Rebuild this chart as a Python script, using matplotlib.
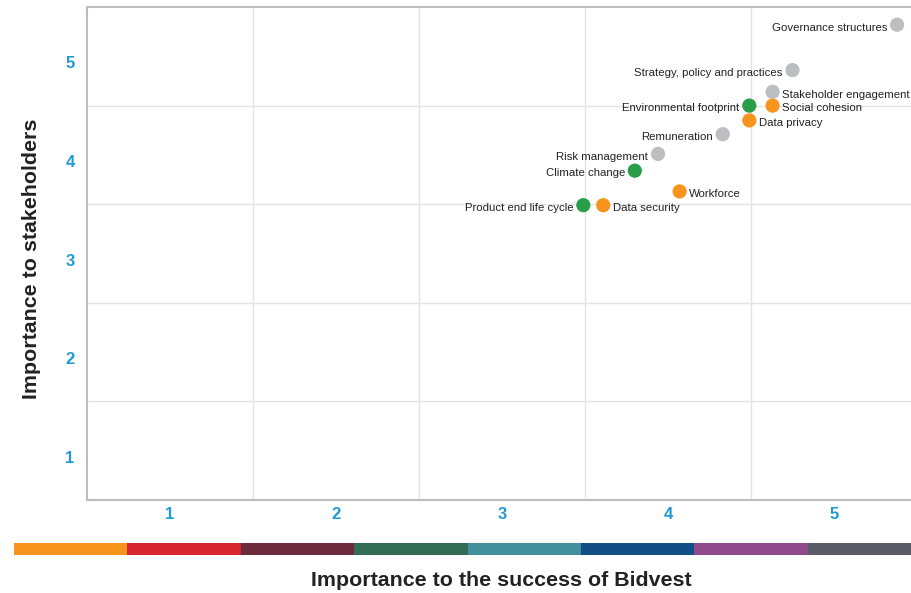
import matplotlib.pyplot as plt
import matplotlib.transforms as mtransforms

# Materiality matrix data
topics = ['Governance structures', 'Strategy, policy and practices', 'Stakeholder engagement',
          'Environmental footprint', 'Social cohesion', 'Data privacy', 'Remuneration',
          'Risk management', 'Climate change', 'Workforce', 'Product end life cycle',
          'Data security']
success = [5.38, 4.75, 4.63, 4.49, 4.63, 4.49, 4.33, 3.94, 3.80, 4.07, 3.49, 3.61]
stakeholders = [5.32, 4.86, 4.64, 4.50, 4.50, 4.35, 4.21, 4.01, 3.84, 3.63, 3.49, 3.49]
groups = ['gov', 'gov', 'gov', 'env', 'soc', 'soc', 'gov', 'gov', 'env', 'soc', 'env', 'soc']
label_side = ['left', 'left', 'right', 'left', 'right', 'right', 'left', 'left', 'left',
              'right', 'left', 'right']
tick_values = [1, 2, 3, 4, 5]
band_colors = ['#F7941D', '#D7262F', '#6D2C3E', '#336C57', '#448F9C', '#134E87',
               '#8E4A8B', '#5A5C66']

group_colors = {'gov': '#BDBEC2', 'env': '#2A9D48', 'soc': '#F7941D'}
tick_blue = '#1E9AD6'
font = ['Liberation Sans', 'DejaVu Sans']

fig = plt.figure(figsize=(9.12, 5.93), dpi=100)
ax = fig.add_axes([87 / 912, 93 / 593, 830 / 912, 493 / 593])

ax.set_xlim(0.5, 5.5)
ax.set_ylim(0.5, 5.5)

# grid on the cell boundaries
for v in [1.5, 2.5, 3.5, 4.5]:
    ax.axvline(v, color='#E3E3E3', lw=1, zorder=0)
    ax.axhline(v, color='#E3E3E3', lw=1, zorder=0)

for s in ax.spines.values():
    s.set_color('#BDBDBD')
    s.set_linewidth(1.5)

ax.set_xticks(tick_values)
ax.set_yticks(tick_values)
ax.tick_params(length=0, colors=tick_blue, labelsize=12)
ax.tick_params(axis='x', pad=5)
ax.tick_params(axis='y', pad=9)
for t in ax.get_xticklabels() + ax.get_yticklabels():
    t.set_fontweight('bold')
    t.set_fontfamily(font)
# y labels sit a little below the cell centres
offset = mtransforms.ScaledTranslation(0, -6 / 100, fig.dpi_scale_trans)
for t in ax.get_yticklabels():
    t.set_transform(t.get_transform() + offset)

cols = [group_colors[g] for g in groups]
ax.scatter(success, stakeholders, s=105, c=cols, zorder=3, clip_on=False, linewidths=0)

for name, x, y, side in zip(topics, success, stakeholders, label_side):
    dx = -7 if side == 'left' else 7
    ax.annotate(name, (x, y), xytext=(dx, -2), textcoords='offset points',
                ha='right' if side == 'left' else 'left', va='center',
                fontsize=8.2, color='#222222', family=font)

# colour band under the x axis
band = fig.add_axes([14 / 912, 38 / 593, 8 * 113.4 / 912, 12 / 593])
band.bar(range(len(band_colors)), [1] * len(band_colors), width=1.0, align='edge',
         color=band_colors)
band.set_xlim(0, len(band_colors))
band.set_ylim(0, 1)
band.axis('off')

fig.text(501 / 912, 1 - 580 / 593, 'Importance to the success of Bidvest', ha='center',
         va='center', fontsize=15.4, fontweight='bold', color='#222222', family=font)
fig.text(32 / 912, 1 - 259 / 593, 'Importance to stakeholders', ha='center', va='center',
         rotation=90, fontsize=15.4, fontweight='bold', color='#222222', family=font)

fig.savefig('out.png', dpi=100)
